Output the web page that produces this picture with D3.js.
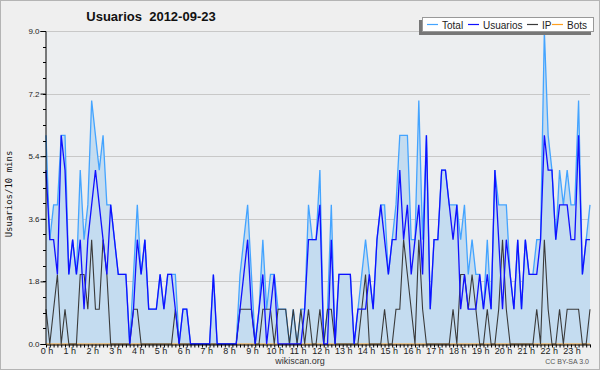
<!DOCTYPE html>
<html>
<head>
<meta charset="utf-8">
<script src="https://cdnjs.cloudflare.com/ajax/libs/d3/7.8.5/d3.min.js"></script>
<style>
  body { margin: 0; background: #fff; }
  svg { display: block; font-family: "Liberation Sans", Arial, sans-serif; }
</style>
</head>
<body>
<div id="chart"></div>
<script>
// 10-minute samples for 2012-09-23, index 0 = 0:00, 143 = 23:50
var total = [6,3,4,4,6,6, 2,3,2,5,3,4, 7,6,5,6,4,4, 3,2,2,2,0,2,
  4,2,3,1,1,1, 2,1,2,2,2,0, 1,1,0,0,0,0, 0,0,2,0,0,0,
  0,0,0,2,3,4, 2,0,1,3,1,2, 2,1,1,1,0,1, 0,1,1,4,3,3,
  5,0,1,4,0,2, 2,2,2,0,1,2, 3,2,1,3,4,4, 2,3,4,6,6,6,
  3,3,7,3,6,1, 3,3,5,5,4,4, 4,3,4,2,3,2, 2,1,3,1,5,4,
  4,4,2,1,3,1, 3,2,2,3,3,9, 6,5,3,5,4,5, 4,4,7,2,3,4];
var usuarios = [5,3,3,2,6,5, 2,3,2,3,1,3, 4,5,4,3,2,4, 3,2,2,2,0,1,
  3,2,3,1,1,1, 2,1,2,2,1,0, 1,1,0,0,0,0, 0,0,2,0,0,0,
  0,0,0,1,2,3, 1,0,1,2,0,1, 2,0,0,0,0,0, 0,0,1,3,3,3,
  4,0,0,3,0,2, 2,2,2,0,1,1, 1,2,1,3,4,3, 2,3,3,5,3,4,
  2,3,4,2,6,1, 3,3,5,5,4,3, 4,1,2,1,1,1, 2,1,2,1,5,3,
  1,3,2,1,3,1, 3,2,2,2,3,6, 5,5,3,4,4,4, 3,3,6,2,3,3];
var ip = [1,0,1,2,0,1, 0,0,0,2,2,1, 3,1,1,3,2,0, 0,0,0,0,0,1,
  1,0,0,0,0,0, 0,0,0,0,1,0, 0,0,0,0,0,0, 0,0,0,0,0,0,
  0,0,0,1,1,1, 1,0,0,1,1,1, 0,1,1,1,0,1, 0,1,0,1,0,0,
  1,0,1,1,0,0, 0,0,0,0,0,1, 2,0,0,0,0,1, 0,0,1,1,3,2,
  1,0,3,1,0,0, 0,0,0,0,0,1, 0,2,2,1,2,1, 0,0,1,0,0,1,
  3,1,0,0,0,0, 0,0,0,1,0,3, 1,0,0,1,0,1, 1,1,1,0,0,1];
var bots = [0,0,0,0,0,0, 0,0,0,0,0,0, 0,0,0,0,0,0, 0,0,0,0,0,0,
  0,0,0,0,0,0, 0,0,0,0,0,0, 0,0,0,0,0,0, 0,0,0,0,0,0,
  0,0,0,0,0,0, 0,0,0,0,0,0, 0,0,0,0,0,0, 0,0,0,0,0,0,
  0,0,0,0,0,0, 0,0,0,0,0,0, 0,0,0,0,0,0, 0,0,0,0,0,0,
  0,0,0,0,0,0, 0,0,0,0,0,0, 0,0,0,0,0,0, 0,0,0,0,0,0,
  0,0,0,0,0,0, 0,0,0,0,0,0, 0,0,0,0,0,0, 0,0,0,0,0,0];
var hours = d3.range(0, 24);
var yTicks = [0, 1.8, 3.6, 5.4, 7.2, 9.0];
var legendNames = ['Total', 'Usuarios', 'IP', 'Bots'];
var legendColors = ['#44a4ff', '#1010ff', '#3a3a3a', '#ffa020'];

var W = 600, H = 370;
var svg = d3.select('#chart').append('svg')
  .attr('width', W).attr('height', H);

// page background + border
svg.append('rect').attr('x', 0.5).attr('y', 0.5)
  .attr('width', W - 1).attr('height', H - 1)
  .attr('fill', '#efefef').attr('stroke', '#b4b4b4');

var x = d3.scaleLinear().domain([0, total.length - 1]).range([46, 590]);
var y = d3.scaleLinear().domain([0, 9]).range([344, 31]);

// plot background
svg.append('rect')
  .attr('x', x(0)).attr('y', y(9))
  .attr('width', x(total.length - 1) - x(0)).attr('height', y(0) - y(9))
  .attr('fill', '#eceef0');

// grid
svg.selectAll('line.grid')
  .data(yTicks.slice(1))
  .enter().append('line')
  .attr('class', 'grid')
  .attr('x1', x(0)).attr('x2', x(total.length - 1))
  .attr('y1', function(d) { return Math.round(y(d)) + 0.5; })
  .attr('y2', function(d) { return Math.round(y(d)) + 0.5; })
  .attr('stroke', '#c8c8c8').attr('stroke-width', 1);

var idx = d3.range(total.length);

var area = d3.area()
  .x(function(i) { return x(i); })
  .y0(y(0))
  .y1(function(i) { return y(total[i]); });

svg.append('path').datum(idx)
  .attr('d', area)
  .attr('fill', '#c4dcf0');

function drawLine(values, color, width) {
  var line = d3.line()
    .x(function(i) { return x(i); })
    .y(function(i) { return y(values[i]); });
  svg.append('path').datum(idx)
    .attr('d', line)
    .attr('fill', 'none')
    .attr('stroke', color)
    .attr('stroke-width', width)
    .attr('stroke-linejoin', 'miter');
}

drawLine(bots, legendColors[3], 1.2);
drawLine(total, legendColors[0], 1.3);
drawLine(ip, legendColors[2], 1.1);
drawLine(usuarios, legendColors[1], 1.3);

// y axis
var yAxis = d3.axisLeft(y)
  .tickValues(yTicks)
  .tickFormat(d3.format('.1f'))
  .tickSize(5)
  .tickPadding(1);
var gy = svg.append('g')
  .attr('transform', 'translate(' + (x(0) - 0.5) + ',0)')
  .call(yAxis);
gy.select('.domain').attr('stroke', '#000');
gy.selectAll('text')
  .attr('font-family', '"Liberation Sans", Arial, sans-serif')
  .attr('font-size', 8).attr('fill', '#222');

// minor y ticks
svg.selectAll('line.ymin')
  .data(d3.range(0, 9.01, 0.45))
  .enter().append('line')
  .attr('class', 'ymin')
  .attr('x1', x(0) - 3).attr('x2', x(0))
  .attr('y1', function(d) { return Math.round(y(d)) + 0.5; })
  .attr('y2', function(d) { return Math.round(y(d)) + 0.5; })
  .attr('stroke', '#000');

// x axis : a tick every 10 minutes, label every hour
var xAxis = d3.axisBottom(x)
  .tickValues(idx)
  .tickFormat('')
  .tickSizeInner(3)
  .tickSizeOuter(0);
var gx = svg.append('g')
  .attr('transform', 'translate(0,' + (y(0) + 0.5) + ')')
  .call(xAxis);
gx.select('.domain').attr('stroke', '#000');

svg.selectAll('text.hour')
  .data(hours)
  .enter().append('text')
  .attr('class', 'hour')
  .attr('x', function(h) { return x(h * 6) + 1; })
  .attr('y', 354)
  .attr('text-anchor', 'middle')
  .attr('font-size', 9)
  .attr('fill', '#222')
  .text(function(h) { return h + ' h'; });

// title
svg.append('text')
  .attr('x', 151).attr('y', 21)
  .attr('text-anchor', 'middle')
  .attr('font-size', 13)
  .attr('font-weight', 'bold')
  .attr('fill', '#111')
  .attr('xml:space', 'preserve')
  .text('Usuarios  2012-09-23');

// y label
svg.append('text')
  .attr('transform', 'translate(12,194) rotate(-90)')
  .attr('text-anchor', 'middle')
  .attr('font-family', '"DejaVu Sans Mono", monospace')
  .attr('font-size', 9)
  .attr('fill', '#111')
  .text('Usuarios/10 mins');

// legend
svg.append('rect')
  .attr('x', 419).attr('y', 20).attr('width', 172).attr('height', 15)
  .attr('fill', '#777');
svg.append('rect')
  .attr('x', 422.5).attr('y', 17.5).attr('width', 171).attr('height', 14)
  .attr('fill', '#fff').attr('stroke', '#999');

var legendX = [427, 468, 527, 552];
var leg = svg.selectAll('g.leg')
  .data(legendNames)
  .enter().append('g')
  .attr('class', 'leg')
  .attr('transform', function(d, i) { return 'translate(' + legendX[i] + ',0)'; });
leg.append('line')
  .attr('x1', 0).attr('x2', 11)
  .attr('y1', 24.5).attr('y2', 24.5)
  .attr('stroke', function(d, i) { return legendColors[i]; })
  .attr('stroke-width', 1.2);
leg.append('text')
  .attr('x', 15).attr('y', 28.5)
  .attr('font-size', 10)
  .attr('fill', '#222')
  .text(function(d) { return d; });

// footer
svg.append('text')
  .attr('x', 300).attr('y', 364)
  .attr('text-anchor', 'middle')
  .attr('font-size', 9)
  .attr('fill', '#333')
  .text('wikiscan.org');
svg.append('text')
  .attr('x', 589).attr('y', 364)
  .attr('text-anchor', 'end')
  .attr('font-size', 7)
  .attr('fill', '#555')
  .text('CC BY-SA 3.0');
</script>
</body>
</html>
